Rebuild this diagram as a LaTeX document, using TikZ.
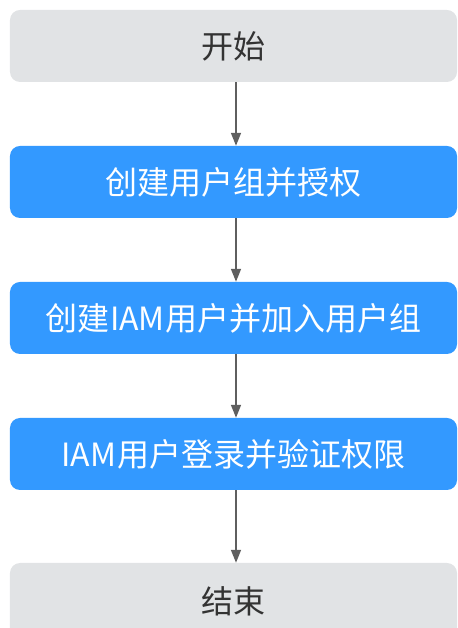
\documentclass[tikz,border=0pt]{standalone}
\usepackage{fontspec}
\newfontfamily\cjk{Noto Sans CJK SC}
\usetikzlibrary{arrows.meta}
\definecolor{boxgrey}{HTML}{E1E3E5}
\definecolor{boxblue}{HTML}{3399FF}
\definecolor{txtgrey}{HTML}{333333}
\definecolor{arrgrey}{HTML}{5F5F5F}
\tikzset{
  base/.style={rounded corners=10bp, minimum width=447bp, minimum height=72bp, inner sep=0pt,
    font=\cjk\fontsize{32bp}{36bp}\selectfont},
  greybox/.style={base, fill=boxgrey, text=txtgrey},
  bluebox/.style={base, fill=boxblue, text=white},
  flow/.style={draw=arrgrey, line width=1.4bp, -{Triangle[width=10bp,length=13bp]}}
}
\begin{document}
\begin{tikzpicture}[x=1bp,y=1bp]
\useasboundingbox (0,0) rectangle (458,628);
\clip (0,0) rectangle (458,628);
\node[greybox] (start) at (233.5,582) {开始};
\node[bluebox] (s1) at (233.5,446) {创建用户组并授权};
\node[bluebox] (s2) at (233.5,310) {创建\kern1bp IAM\kern1bp 用户并加入用户组};
\node[bluebox] (s3) at (233.5,174) {IAM\kern1bp 用户登录并验证权限};
\node[greybox, minimum height=76bp] (end) at (233.5,27) {\raisebox{2bp}{结束}};
\draw[flow] ([xshift=2.5bp]start.south) -- ([xshift=2.5bp]s1.north);
\draw[flow] ([xshift=2.5bp]s1.south) -- ([xshift=2.5bp]s2.north);
\draw[flow] ([xshift=2.5bp]s2.south) -- ([xshift=2.5bp]s3.north);
\draw[flow] ([xshift=2.5bp]s3.south) -- ([xshift=2.5bp]end.north);
\end{tikzpicture}
\end{document}
